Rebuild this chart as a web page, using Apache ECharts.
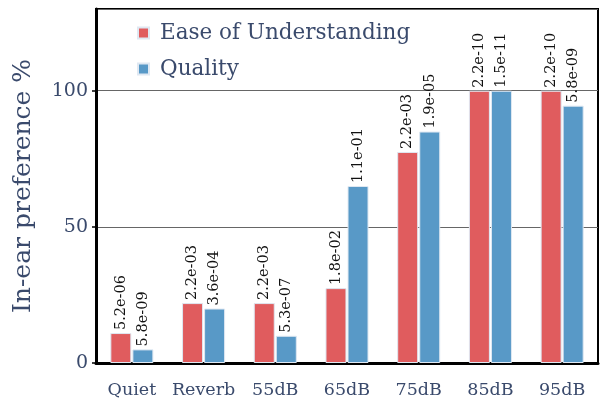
<!DOCTYPE html>
<html>
<head>
<meta charset="utf-8">
<script src="https://cdn.jsdelivr.net/npm/echarts@6/dist/echarts.min.js"></script>
<style>
  html, body { margin: 0; padding: 0; background: #fff; }
  #chart { width: 601px; height: 403px; }
</style>
</head>
<body>
<div id="chart"></div>
<script>
// categories and values
const categories = ['Quiet', 'Reverb', '55dB', '65dB', '75dB', '85dB', '95dB']
const easeValues = [11, 22, 22, 27.5, 77.5, 100, 100]
const qualityValues = [5, 20, 10, 65, 85, 100, 94.5]
// p-values printed above each bar
const easeLabels = ['5.2e-06', '2.2e-03', '2.2e-03', '1.8e-02', '2.2e-03', '2.2e-10', '2.2e-10']
const qualityLabels = ['5.8e-09', '3.6e-04', '5.3e-07', '1.1e-01', '1.9e-05', '1.5e-11', '5.8e-09']

const navy = '#3a4a6c'
const serif = '"DejaVu Serif", serif'

function barLabel(texts) {
  return {
    show: true,
    position: 'top',
    rotate: 90,
    align: 'left',
    verticalAlign: 'middle',
    distance: 3,
    color: '#111',
    fontFamily: serif,
    fontSize: 14.5,
    formatter: (p) => texts[p.dataIndex]
  }
}

const myChart = echarts.init(document.getElementById('chart'))
const option = {
  animation: false,
  legend: {
    orient: 'vertical',
    left: 132,
    top: 17,
    itemWidth: 11,
    itemHeight: 11,
    itemGap: 14,
    icon: 'rect',
    textStyle: { color: navy, fontFamily: serif, fontSize: 21.5, padding: [0, 0, 0, 6] },
    data: ['Ease of Understanding', 'Quality']
  },
  grid: {
    left: 96,
    right: 3,
    top: 9,
    bottom: 40,
    show: true,
    borderColor: '#000',
    borderWidth: 2
  },
  xAxis: {
    type: 'category',
    data: categories,
    axisLine: { lineStyle: { color: '#000', width: 3 } },
    axisTick: { show: false },
    axisLabel: { interval: 0, color: navy, fontFamily: serif, fontSize: 17.5, margin: 18 }
  },
  yAxis: {
    type: 'value',
    min: 0,
    max: 130,
    interval: 50,
    name: 'In-ear preference %',
    nameLocation: 'middle',
    nameGap: 60,
    nameTextStyle: { color: navy, fontFamily: serif, fontSize: 25 },
    axisLine: { show: true, lineStyle: { color: '#000', width: 3 } },
    axisTick: { show: true, length: 4, lineStyle: { color: '#000', width: 1.5 } },
    axisLabel: {
      color: navy, fontFamily: serif, fontSize: 19, margin: 8,
      showMaxLabel: false
    },
    splitLine: { show: true, lineStyle: { color: '#666', width: 1.2 } }
  },
  series: [
    {
      name: 'Ease of Understanding',
      type: 'bar',
      data: easeValues,
      barWidth: 21,
      barGap: '5%',
      itemStyle: { color: '#e05c5e', borderColor: '#dfe8f2', borderWidth: 1 },
      label: barLabel(easeLabels)
    },
    {
      name: 'Quality',
      type: 'bar',
      data: qualityValues,
      barWidth: 21,
      itemStyle: { color: '#5899c7', borderColor: '#dfe8f2', borderWidth: 1 },
      label: barLabel(qualityLabels)
    }
  ]
}
myChart.setOption(option)
</script>
</body>
</html>
